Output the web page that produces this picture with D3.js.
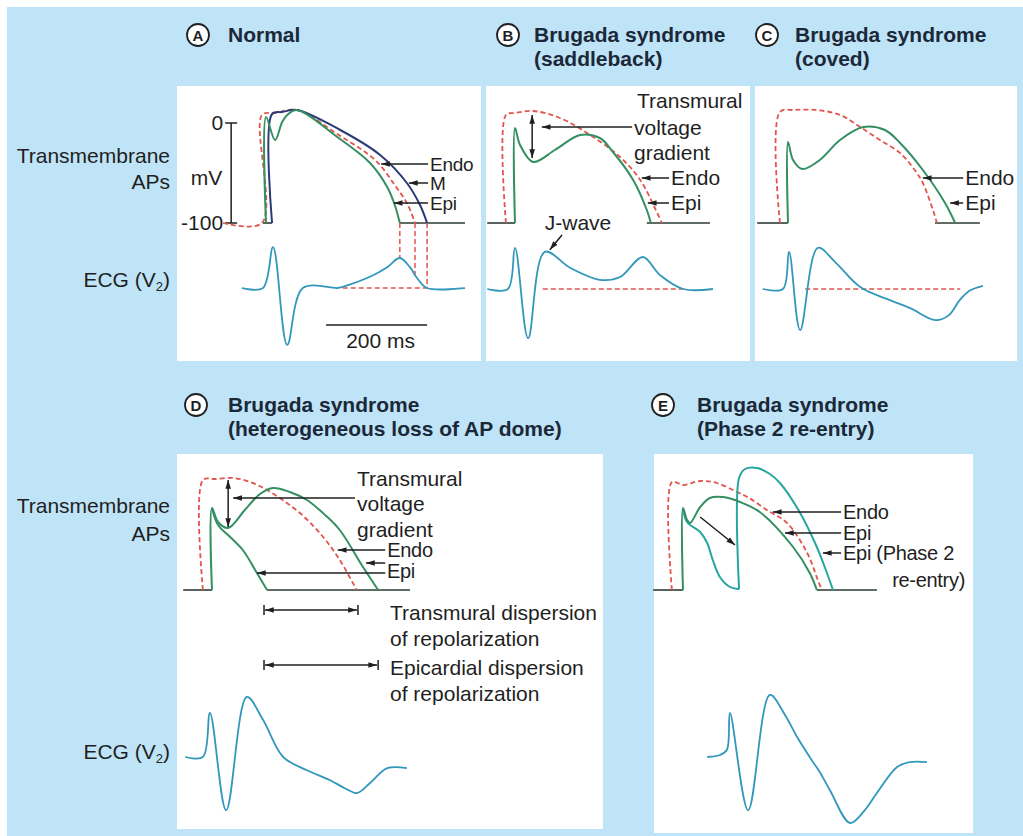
<!DOCTYPE html>
<html>
<head>
<meta charset="utf-8">
<script src="https://cdn.jsdelivr.net/npm/d3@7"></script>
<style>
  html, body { margin: 0; padding: 0; background: #fff; }
  svg { display: block; }
</style>
</head>
<body>
<svg id="chart" width="1023" height="836"></svg>
<script>
// Brugada figure - action potentials (ms / mV) and ECG (ms / mV)

// ---------- data ----------
// Panel A - normal
const aEndo = [[-85,-100],[-8,-100],[-8,8],[18,10],[61,13],[141,-11],[216,-37],[255,-62],[281,-82],[295,-100]];
const aM    = [[12,-100],[12,9],[32,11],[61,13],[147,-7],[226,-32],[279,-60],[305,-82],[319,-100]];
const aEpi  = [[0,-100],[0,6],[18,-17],[32,1],[42,8],[61,13],[141,-14],[206,-40],[240,-64],[255,-82],[265,-100]];
const aEcg  = [[-48,0],[-6,0],[14,1.02],[42,-1.42],[73,0],[141,0],[152,0.03],[206,0.28],[240,0.52],[265,0.75],[285,0.52],[299,0.25],[319,0],[394,0]];
const aDrops = [[265,0.75],[295,0.33],[319,0]];
const aEcgRef = [152,319];
const aBaselines = [[-6,12],[265,394]];
const aTicks = [0,-100];
const aScaleBar = [119,319];

// Panel B - saddleback
const bEndo = [[-18,-100],[-18,8],[0,10],[36,12],[89,5],[149,-12],[208,-34],[248,-57],[277,-85],[291,-100]];
const bEpi  = [[0,-100],[0,-5],[10,-22],[36,-39],[79,-27],[129,-12],[168,-15],[194,-29],[234,-57],[261,-87],[269,-100]];
const bEcg  = [[-55,0],[-14,0],[0,1.03],[26,-1.23],[59,0.93],[109,0.53],[168,0.23],[208,0.3],[253,0.8],[287,0.35],[333,0],[392,0]];
const bEcgRef = [55,333];
const bBaselines = [[-55,0],[261,386]];

// Panel C - coved
const cEndo = [[-16,-100],[-16,11],[14,13],[57,13],[103,8],[143,-4],[182,-17],[222,-30],[251,-47],[267,-60],[287,-87],[295,-100]];
const cEpi  = [[0,-100],[0,-19],[10,-37],[28,-46],[63,-37],[103,-17],[149,-4],[192,-7],[222,-20],[267,-47],[311,-80],[331,-100]];
const cEcg  = [[-50,0],[-10,0],[2,0.93],[24,-1.03],[59,1.03],[93,0.68],[143,0.05],[202,-0.28],[242,-0.48],[292,-0.78],[318,-0.66],[340,-0.28],[360,-0.04],[386,0.08]];
const cEcgRef = [34,341];
const cBaselines = [[-61,0],[291,380]];

// Panel D - heterogeneous loss of dome
const dEndo    = [[-18,-100],[-18,10],[6,11],[42,12],[75,8],[109,0],[174,-23],[220,-47],[253,-70],[279,-93],[287,-100]];
const dEpiDome = [[0,-100],[0,-18],[12,-32],[32,-38],[65,-20],[95,-4],[121,2],[154,-2],[188,-10],[224,-25],[253,-40],[299,-77],[329,-100]];
const dEpiLoss = [[0,-18],[12,-35],[36,-47],[61,-60],[89,-83],[109,-100]];
const dEcg     = [[-53,0],[-18,0],[-4,1.1],[28,-1.33],[69,1.5],[101,0.93],[141,0],[188,-0.33],[234,-0.58],[263,-0.78],[287,-0.9],[313,-0.65],[347,-0.28],[386,-0.28]];
const dBaselines = [[-57,0],[109,392]];
const dDispersion = [[103,289],[103,329]];

// Panel E - phase 2 re-entry
const eEndo    = [[-22,-100],[-22,8],[0,5],[34,9],[67,7],[107,-2],[131,-8],[166,-20],[206,-33],[246,-63],[267,-90],[275,-100]];
const eEpiDome = [[0,-100],[0,-18],[8,-30],[14,-33],[34,-17],[53,-8],[79,-7],[113,-12],[152,-22],[218,-57],[251,-83],[265,-100]];
const eEpiLoss = [[0,-18],[8,-32],[34,-42],[48,-53],[59,-70],[73,-87],[93,-97],[109,-99],[111,-99]];
const eReentry = [[111,-99],[111,12],[123,21],[147,22],[172,16],[192,7],[232,-23],[265,-57],[285,-83],[297,-100]];
const eEcg     = [[48,0],[73,0.05],[87,0.18],[93,1.1],[129,-1.33],[172,1.55],[202,1.05],[226,0.5],[255,-0.08],[271,-0.38],[291,-0.83],[331,-1.65],[360,-1.33],[384,-0.9],[424,-0.25],[449,-0.13],[483,-0.13]];
const eBaselines = [[-59,0],[265,384]];

// ---------- styles ----------
const FONT = '"Liberation Sans", Arial, Helvetica, sans-serif';
const BG_BLUE = "#bfe3f7";
const RED = "#e0564c", GREEN = "#348f62", TEAL = "#27a6a0", NAVY = "#2d3a78";
const ECGC = "#3198bb", INK = "#1f1f1f", BASE = "#2a3b33", TITLE = "#1b2838";

const svg = d3.select("#chart");
svg.append("rect").attr("width", 1023).attr("height", 836).attr("fill", "#fff");
svg.append("rect").attr("x", 7).attr("y", 7).attr("width", 1016).attr("height", 829).attr("fill", BG_BLUE);

const defs = svg.append("defs");
defs.append("marker")
    .attr("id", "arr")
    .attr("viewBox", "0 -4 10 8")
    .attr("refX", 10).attr("refY", 0)
    .attr("markerWidth", 9).attr("markerHeight", 7)
    .attr("markerUnits", "userSpaceOnUse")
    .attr("orient", "auto-start-reverse")
  .append("path")
    .attr("d", "M0,-3.2L10,0L0,3.2Z")
    .attr("fill", INK);

// panel frames
const panels = {
    A: {rect: [177, 86, 304, 275], x0: 266, apBase: 223, ecgBase: 288},
    B: {rect: [486, 86, 264, 275], x0: 515, apBase: 223, ecgBase: 289},
    C: {rect: [755, 86, 262, 275], x0: 788, apBase: 223, ecgBase: 289},
    D: {rect: [177, 454, 426, 375], x0: 212, apBase: 590, ecgBase: 757},
    E: {rect: [654, 454, 319, 379], x0: 683, apBase: 590, ecgBase: 757}
};

function scalesFor(p) {
    return {
        x: d3.scaleLinear().domain([0, 200]).range([p.x0, p.x0 + 101]),
        yAp: d3.scaleLinear().domain([-100, 0]).range([p.apBase, p.apBase - 100]),
        yEcg: d3.scaleLinear().domain([0, 1]).range([p.ecgBase, p.ecgBase - 40])
    };
}

Object.values(panels).forEach(p => {
    p.s = scalesFor(p);
    svg.append("rect")
        .attr("x", p.rect[0]).attr("y", p.rect[1])
        .attr("width", p.rect[2]).attr("height", p.rect[3])
        .attr("fill", "#fff");
});

function curve(p, data, color, opts = {}) {
    const y = opts.ecg ? p.s.yEcg : p.s.yAp;
    const line = d3.line()
        .x(d => p.s.x(d[0]))
        .y(d => y(d[1]))
        .curve(d3.curveCatmullRom.alpha(0.5));
    svg.append("path")
        .attr("d", line(data))
        .attr("fill", "none")
        .attr("stroke", color)
        .attr("stroke-width", opts.width || 2)
        .attr("stroke-dasharray", opts.dash || null)
        .attr("stroke-linejoin", "round");
}

function baselines(p, segs) {
    segs.forEach(sg => {
        svg.append("line")
            .attr("x1", p.s.x(sg[0])).attr("x2", p.s.x(sg[1]))
            .attr("y1", p.s.yAp(-100)).attr("y2", p.s.yAp(-100))
            .attr("stroke", BASE).attr("stroke-width", 1.6);
    });
}

function ecgRef(p, seg) {
    svg.append("line")
        .attr("x1", p.s.x(seg[0])).attr("x2", p.s.x(seg[1]))
        .attr("y1", p.s.yEcg(0)).attr("y2", p.s.yEcg(0))
        .attr("stroke", RED).attr("stroke-width", 1.5)
        .attr("stroke-dasharray", "5,3");
}

function arrow(x1, y1, x2, y2, both) {
    svg.append("line")
        .attr("x1", x1).attr("y1", y1).attr("x2", x2).attr("y2", y2)
        .attr("stroke", INK).attr("stroke-width", 1.5)
        .attr("marker-end", "url(#arr)")
        .attr("marker-start", both ? "url(#arr)" : null);
}

function text(x, y, str, opts = {}) {
    return svg.append("text")
        .attr("x", x).attr("y", y)
        .attr("font-family", FONT)
        .attr("font-size", opts.size || 21)
        .attr("font-weight", opts.bold ? "bold" : "normal")
        .attr("text-anchor", opts.anchor || "start")
        .attr("letter-spacing", opts.tight ? -0.3 : null)
        .attr("fill", opts.color || INK)
        .text(str);
}

// label with arrow: arrow starts at t (text left), points to tipT at level v
function labelArrow(p, lab) {
    const y = p.s.yAp(lab.v);
    const x1 = p.s.x(lab.t);
    arrow(x1, y, p.s.x(lab.tipT), y);
    if (lab.text) text(x1 + 2, y + 7, lab.text, {size: lab.size || 21, tight: !!lab.size});
}

// ---------- titles ----------
function title(cx, cy, letter, lines, tx) {
    svg.append("circle").attr("cx", cx).attr("cy", cy).attr("r", 11)
        .attr("fill", "#fff").attr("stroke", INK).attr("stroke-width", 1.8);
    text(cx, cy + 5.5, letter, {size: 15, bold: true, anchor: "middle", color: INK});
    lines.forEach((l, i) => text(tx, cy + 7 + i * 24, l, {bold: true, color: TITLE}));
}
title(198, 35, "A", ["Normal"], 228);
title(508, 35, "B", ["Brugada syndrome", "(saddleback)"], 534);
title(767, 35, "C", ["Brugada syndrome", "(coved)"], 795);
title(196, 405, "D", ["Brugada syndrome", "(heterogeneous loss of AP dome)"], 228);
title(663, 405, "E", ["Brugada syndrome", "(Phase 2 re-entry)"], 697);

// row labels
function ecgLabel(y) {
    const t = svg.append("text").attr("x", 170).attr("y", y)
        .attr("font-family", FONT).attr("font-size", 21)
        .attr("text-anchor", "end").attr("fill", INK);
    t.append("tspan").text("ECG (V");
    t.append("tspan").attr("font-size", 13).attr("dy", 4).text("2");
    t.append("tspan").attr("dy", -4).text(")");
}
text(170, 163, "Transmembrane", {anchor: "end"});
text(170, 189, "APs", {anchor: "end"});
ecgLabel(287);
text(170, 513, "Transmembrane", {anchor: "end"});
text(170, 541, "APs", {anchor: "end"});
ecgLabel(759);

// ---------- panel A ----------
{
    const p = panels.A, s = p.s;
    // mV axis
    const ax = s.x(-69);
    svg.append("line").attr("x1", ax).attr("x2", ax)
        .attr("y1", s.yAp(0)).attr("y2", s.yAp(-100))
        .attr("stroke", INK).attr("stroke-width", 1.5);
    aTicks.forEach(v => {
        svg.append("line").attr("x1", ax - 6).attr("x2", ax + 6)
            .attr("y1", s.yAp(v)).attr("y2", s.yAp(v))
            .attr("stroke", INK).attr("stroke-width", 1.5);
        text(ax - 8, s.yAp(v) + 7, String(v), {anchor: "end"});
    });
    text(ax - 9, s.yAp(-55) + 7, "mV", {anchor: "end"});

    baselines(p, aBaselines);
    curve(p, aEndo, RED, {dash: "5,3", width: 1.8});
    curve(p, aM, NAVY);
    curve(p, aEpi, GREEN);

    // repolarisation drop lines to the ECG
    aDrops.forEach(d => {
        svg.append("line")
            .attr("x1", s.x(d[0])).attr("x2", s.x(d[0]))
            .attr("y1", s.yAp(-100)).attr("y2", s.yEcg(d[1]))
            .attr("stroke", RED).attr("stroke-width", 1.5)
            .attr("stroke-dasharray", "5,3");
    });
    ecgRef(p, aEcgRef);
    curve(p, aEcg, ECGC, {ecg: true, width: 1.8});

    labelArrow(p, {text: "Endo", t: 321, v: -41, tipT: 228, size: 19});
    labelArrow(p, {text: "M", t: 321, v: -60, tipT: 283, size: 19});
    labelArrow(p, {text: "Epi", t: 321, v: -80, tipT: 253, size: 19});

    // 200 ms scale bar
    svg.append("line")
        .attr("x1", s.x(aScaleBar[0])).attr("x2", s.x(aScaleBar[1]))
        .attr("y1", 325).attr("y2", 325)
        .attr("stroke", INK).attr("stroke-width", 1.5);
    text((s.x(aScaleBar[0]) + s.x(aScaleBar[1])) / 2 + 4, 348, "200 ms", {anchor: "middle"});
}

// ---------- panel B ----------
{
    const p = panels.B, s = p.s;
    baselines(p, bBaselines);
    curve(p, bEndo, RED, {dash: "5,3", width: 1.8});
    curve(p, bEpi, GREEN);
    ecgRef(p, bEcgRef);
    curve(p, bEcg, ECGC, {ecg: true, width: 1.8});

    arrow(s.x(34), s.yAp(8), s.x(34), s.yAp(-35), true);
    labelArrow(p, {t: 232, v: -4, tipT: 53});
    text(637, 108, "Transmural");
    text(634, 135, "voltage");
    text(634, 160, "gradient");
    labelArrow(p, {text: "Endo", t: 305, v: -55, tipT: 251});
    labelArrow(p, {text: "Epi", t: 305, v: -80, tipT: 263});

    text(578, 230, "J-wave", {anchor: "middle"});
    arrow(s.x(93), s.yEcg(1.35), s.x(69), s.yEcg(0.98));
}

// ---------- panel C ----------
{
    const p = panels.C;
    baselines(p, cBaselines);
    curve(p, cEndo, RED, {dash: "5,3", width: 1.8});
    curve(p, cEpi, GREEN);
    ecgRef(p, cEcgRef);
    curve(p, cEcg, ECGC, {ecg: true, width: 1.8});
    labelArrow(p, {text: "Endo", t: 347, v: -55, tipT: 267});
    labelArrow(p, {text: "Epi", t: 347, v: -80, tipT: 321});
}

// ---------- panel D ----------
{
    const p = panels.D, s = p.s;
    baselines(p, dBaselines);
    curve(p, dEndo, RED, {dash: "5,3", width: 1.8});
    curve(p, dEpiLoss, GREEN);
    curve(p, dEpiDome, GREEN);
    curve(p, dEcg, ECGC, {ecg: true, width: 1.8});

    arrow(s.x(32), s.yAp(10), s.x(32), s.yAp(-37), true);
    labelArrow(p, {t: 283, v: -8, tipT: 42});
    text(357, 486, "Transmural");
    text(357, 511, "voltage");
    text(357, 537, "gradient");
    labelArrow(p, {text: "Endo", t: 343, v: -60, tipT: 249, size: 20});
    labelArrow(p, {t: 343, v: -73, tipT: 305});
    labelArrow(p, {t: 343, v: -83, tipT: 89});
    text(387, 578, "Epi", {size: 20, tight: true});

    // dispersion of repolarization bars
    const rows = [610, 665];
    dDispersion.forEach((d, i) => {
        const x1 = s.x(d[0]), x2 = s.x(d[1]), y = rows[i];
        arrow(x1 + 1, y, x2 - 1, y, true);
        [x1, x2].forEach(x => svg.append("line")
            .attr("x1", x).attr("x2", x).attr("y1", y - 5).attr("y2", y + 5)
            .attr("stroke", INK).attr("stroke-width", 1.5));
    });
    text(390, 620, "Transmural dispersion");
    text(390, 646, "of repolarization");
    text(390, 675, "Epicardial dispersion");
    text(390, 701, "of repolarization");
}

// ---------- panel E ----------
{
    const p = panels.E, s = p.s;
    baselines(p, eBaselines);
    curve(p, eEndo, RED, {dash: "5,3", width: 1.8});
    curve(p, eEpiLoss, TEAL);
    curve(p, eReentry, TEAL);
    curve(p, eEpiDome, GREEN);
    curve(p, eEcg, ECGC, {ecg: true, width: 1.8});

    arrow(s.x(34), s.yAp(-27), s.x(103), s.yAp(-55));
    labelArrow(p, {text: "Endo", t: 313, v: -22, tipT: 178, size: 20});
    labelArrow(p, {text: "Epi", t: 313, v: -43, tipT: 202, size: 20});
    labelArrow(p, {text: "Epi (Phase 2", t: 313, v: -63, tipT: 277, size: 20});
    text(965, 587, "re-entry)", {anchor: "end", size: 20, tight: true});
}
</script>
</body>
</html>
